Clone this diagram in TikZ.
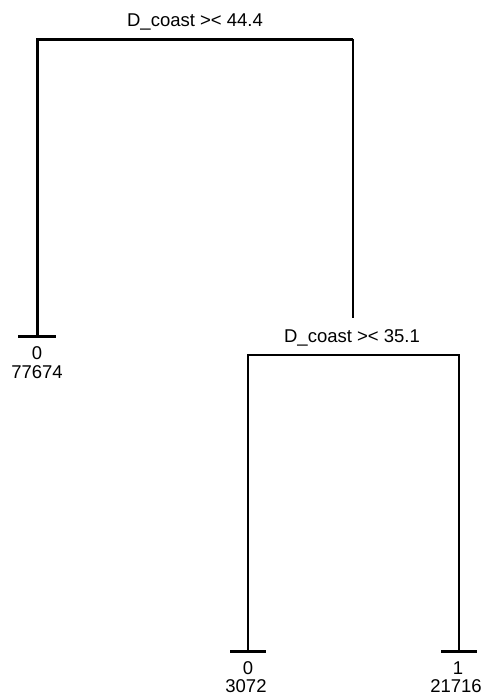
\documentclass[tikz,border=0pt]{standalone}
\usepackage{fontspec}
\setmainfont{Liberation Sans}
\begin{document}
\begin{tikzpicture}[x=1pt,y=-1pt,
  lbl/.style={font=\fontsize{18.5}{22}\selectfont, inner sep=0pt, anchor=base},
  heavybranch/.style={line width=3pt, line join=miter},
  lightbranch/.style={line width=2pt, line join=miter},
  leafbar/.style={line width=3pt}]
\useasboundingbox (0,0) rectangle (485,696);
% split 1
\node[lbl] (s1) at (195,27) {D\_coast >< 44.4};
\coordinate (s1l) at (37,39);
\coordinate (s1r) at (353,39);
% leaf 1
\coordinate (leaf1) at (37,336);
\coordinate (leaf1a) at (18,336);
\coordinate (leaf1b) at (56,336);
\node[lbl] (leaf1c) at (37,359) {0};
\node[lbl] (leaf1n) at (37,378) {77674};
% split 2
\coordinate (s2top) at (353,318);
\node[lbl] (s2) at (352,342) {D\_coast >< 35.1};
\coordinate (s2l) at (248,355);
\coordinate (s2r) at (459,355);
% leaf 2
\coordinate (leaf2) at (248,651);
\coordinate (leaf2a) at (230,651);
\coordinate (leaf2b) at (266,651);
\node[lbl] (leaf2c) at (248,674) {0};
\node[lbl] (leaf2n) at (246,692) {3072};
% leaf 3
\coordinate (leaf3) at (459,651);
\coordinate (leaf3a) at (441,651);
\coordinate (leaf3b) at (477,651);
\node[lbl] (leaf3c) at (458,674) {1};
\node[lbl] (leaf3n) at (456,692) {21716};
% branches
\draw[heavybranch] (leaf1) -- (s1l) -- (s1r);
\draw[lightbranch] (s1r) -- (s2top);
\draw[lightbranch] (leaf2) -- (s2l) -- (s2r) -- (leaf3);
% leaf bars
\draw[leafbar] (leaf1a) -- (leaf1b);
\draw[leafbar] (leaf2a) -- (leaf2b);
\draw[leafbar] (leaf3a) -- (leaf3b);
\end{tikzpicture}
\end{document}
